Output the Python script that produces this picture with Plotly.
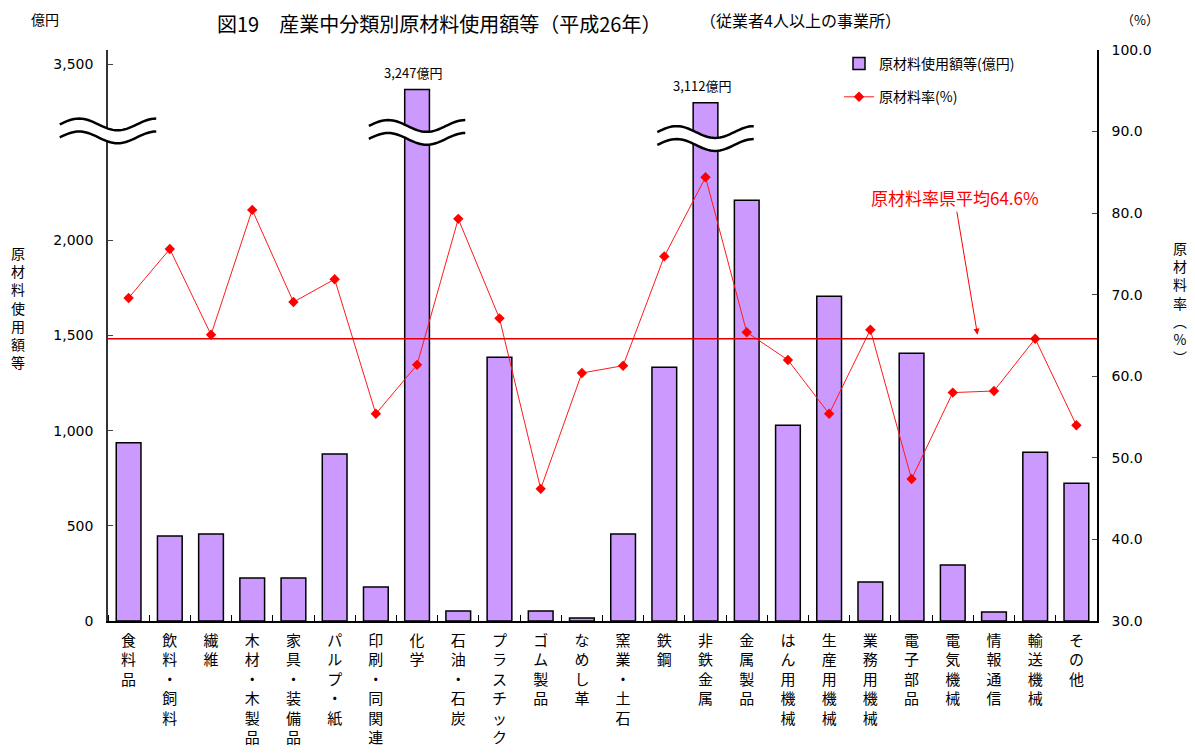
import math
import plotly.graph_objects as go

# ---------------- data ----------------
categories = ["食料品", "飲料・飼料", "繊維", "木材・木製品", "家具・装備品", "パルプ・紙",
              "印刷・同関連", "化学", "石油・石炭", "プラスチック", "ゴム製品", "なめし革",
              "窯業・土石", "鉄鋼", "非鉄金属", "金属製品", "はん用機械", "生産用機械",
              "業務用機械", "電子部品", "電気機械", "情報通信", "輸送機械", "その他"]
usage = [936, 446, 457, 226, 226, 877, 178, 3247, 52, 1386, 52, 16,
         457, 1333, 3112, 2210, 1029, 1706, 205, 1407, 294, 47, 887, 724]
rate = [69.6, 75.6, 65.1, 80.4, 69.1, 71.9, 55.4, 61.4, 79.3, 67.1, 46.2, 60.4,
        61.3, 74.7, 84.4, 65.4, 62.0, 55.4, 65.7, 47.4, 58.0, 58.2, 64.6, 54.0]
avg_rate = 64.6
left_ticks = [0, 500, 1000, 1500, 2000, 3500]
right_ticks = [30, 40, 50, 60, 70, 80, 90, 100]
broken_labels = ["化学", "非鉄金属"]

# ---------------- broken-axis scale ----------------
BREAK_AT = 2300
K = 0.52          # compression above the break
Y_MAX = 3000      # display range of left axis
R_MIN, R_MAX = 30, 100


def disp(v):
    return v if v <= BREAK_AT else BREAK_AT + (v - BREAK_AT) * K


# page is shown with an 8px body margin
OFF = 8
W, H = 1195 - OFF, 754 - OFF
ML, MT = 108 - OFF, 50 - OFF
PW, PH = 989, 571
MR, MB = W - ML - PW, H - MT - PH
N = len(categories)


def px(x):  # page pixel -> paper
    return (x - OFF - ML) / PW


def py(y):
    return (MT + PH - (y - OFF)) / PH


def dx(i):  # category index -> paper
    return (i + 0.5) / N


def dy(v):  # display value -> paper
    return v / Y_MAX


FONT = "Noto Sans CJK JP"
xs = list(range(N))

fig = go.Figure()
fig.add_trace(go.Bar(
    x=xs, y=[disp(v) for v in usage], name="原材料使用額等(億円)",
    marker=dict(color="#CC99FF", line=dict(color="black", width=1.5)),
    width=0.6, legendgroup="a", customdata=usage,
    hovertemplate="%{customdata:,}<extra></extra>"))
fig.add_trace(go.Scatter(
    x=xs, y=rate, name="原材料率(%)", yaxis="y2", mode="lines+markers",
    line=dict(color="#FF1A1A", width=1),
    marker=dict(symbol="diamond", size=8, color="#FF0000"),
    legendgroup="b"))

shapes = []
# average line
shapes.append(dict(type="line", xref="paper", yref="y2", x0=0, x1=1,
                   y0=avg_rate, y1=avg_rate, line=dict(color="#E00000", width=1.5)))


# break marks (double wavy lines)
def wave(xc, yc, half_w=1.17, amp=31, gap=68, n=40):
    top, bot = [], []
    for k in range(n + 1):
        t = k / n
        xx = dx(xc - half_w + 2 * half_w * t)
        s = amp * math.sin(2.5 * math.pi * t)
        top.append((xx, dy(yc + gap / 2 + s)))
        bot.append((xx, dy(yc - gap / 2 + s)))

    def path(pts):
        return "M " + " L ".join(f"{a:.5f},{b:.5f}" for a, b in pts)
    fill = path(top + bot[::-1]) + " Z"
    return [
        dict(type="path", xref="paper", yref="paper", path=fill,
             fillcolor="white", line=dict(width=0), layer="above"),
        dict(type="path", xref="paper", yref="paper", path=path(top),
             line=dict(color="black", width=2.5), layer="above"),
        dict(type="path", xref="paper", yref="paper", path=path(bot),
             line=dict(color="black", width=2.5), layer="above"),
    ]


shapes += wave(-0.5, 2575)
shapes += wave(categories.index("化学"), 2567)
shapes += wave(categories.index("非鉄金属"), 2535)

annotations = []
tf = dict(family=FONT, color="black")
annotations.append(dict(xref="paper", yref="paper", x=px(216), y=py(8), xanchor="left",
                        yanchor="top", showarrow=False, borderpad=0,
                        text="図19　産業中分類別原材料使用額等（平成26年）",
                        font=dict(size=20, **tf)))
annotations.append(dict(xref="paper", yref="paper", x=px(698), y=py(20), xanchor="left",
                        yanchor="middle", showarrow=False,
                        text="（従業者4人以上の事業所）", font=dict(size=16, **tf)))
annotations.append(dict(xref="paper", yref="paper", x=px(45), y=py(19), xanchor="center",
                        yanchor="middle", showarrow=False, text="億円",
                        font=dict(size=14, **tf)))
annotations.append(dict(xref="paper", yref="paper", x=px(1140), y=py(19), xanchor="center",
                        yanchor="middle", showarrow=False, text="（%）",
                        font=dict(size=13, **tf)))
annotations.append(dict(xref="paper", yref="paper", x=px(18), y=py(307), xanchor="center",
                        yanchor="middle", showarrow=False,
                        text="<br>".join("原材料使用額等"), font=dict(size=14, **tf)))
annotations.append(dict(xref="paper", yref="paper", x=px(1180), y=py(302), xanchor="center",
                        yanchor="middle", showarrow=False,
                        text="<br>".join(["原", "材", "料", "率", "︵", "%", "︶"]),
                        font=dict(size=14, **tf)))
for lab in broken_labels:
    i = categories.index(lab)
    annotations.append(dict(xref="x", yref="y", x=i, y=disp(usage[i]), yanchor="bottom",
                            yshift=6, xshift=-4, showarrow=False, text=f"{usage[i]:,}億円",
                            font=dict(size=13, **tf)))
annotations.append(dict(xref="x", yref="y2", x=20.6, y=avg_rate + 0.5,
                        ax=-23, ay=-137, showarrow=True, arrowhead=2, arrowsize=1.2,
                        arrowwidth=1, arrowcolor="#FF0000",
                        text=f"原材料率県平均{avg_rate}%",
                        font=dict(size=17, family=FONT, color="#FF0000")))

fig.update_layout(
    width=W, height=H, margin=dict(l=ML, r=MR, t=MT, b=MB, pad=0, autoexpand=False),
    paper_bgcolor="white", plot_bgcolor="white",
    font=dict(family=FONT, color="black"),
    showlegend=True,
    legend=dict(x=px(839), y=py(48), xanchor="left", yanchor="top",
                bgcolor="rgba(0,0,0,0)", font=dict(size=14, family=FONT),
                tracegroupgap=12),
    xaxis=dict(range=[-0.5, N - 0.5], tickvals=xs,
               ticktext=["<br>".join(c) for c in categories],
               ticks="", showline=True, linecolor="black", linewidth=1.5,
               showgrid=False, zeroline=False, ticklabelstandoff=5, automargin=False,
               tickfont=dict(size=15, family=FONT),
               minor=dict(tickvals=[i - 0.5 for i in range(N + 1)], ticks="inside",
                          ticklen=6, tickcolor="black")),
    yaxis=dict(range=[0, Y_MAX], tickvals=[disp(t) for t in left_ticks],
               ticktext=[f"{t:,}" for t in left_ticks], ticks="inside", ticklen=5,
               showline=True, linecolor="#333", linewidth=1.5, showgrid=False,
               zeroline=False, tickfont=dict(size=14, family="DejaVu Sans"),
               ticklabelstandoff=10, automargin=False),
    yaxis2=dict(range=[R_MIN, R_MAX], tickvals=right_ticks,
                ticktext=[f"{t:.1f}" for t in right_ticks], overlaying="y", side="right",
                ticks="inside", ticklen=5, showline=True, linecolor="black", linewidth=1.5,
                showgrid=False, zeroline=False, automargin=False,
                tickfont=dict(size=14, family="DejaVu Sans"), ticklabelstandoff=10),
    shapes=shapes, annotations=annotations, bargap=0.4,
)

fig.write_html("out.html")
